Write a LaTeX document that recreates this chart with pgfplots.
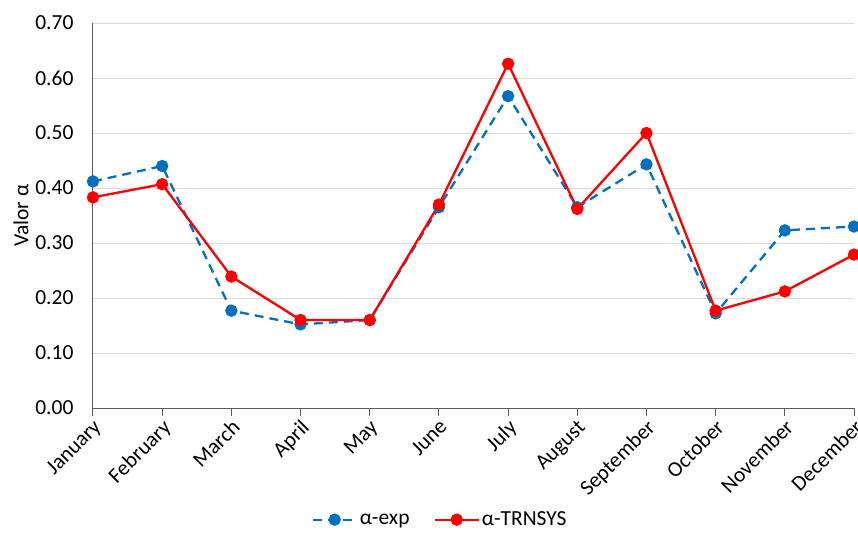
\documentclass[border=0pt]{standalone}
\usepackage{pgfplots}
\pgfplotsset{compat=1.18}
\usepackage{fontspec}
\setmainfont{Carlito}
\definecolor{bl}{HTML}{0070C0}
\definecolor{rd}{HTML}{FF0000}
\definecolor{gr}{HTML}{D9D9D9}
\definecolor{ax}{HTML}{595959}
\newcommand{\fs}{\fontsize{21.5}{23}\selectfont}
\begin{document}
\begin{tikzpicture}
\begin{axis}[
  scale only axis, width=761pt, height=385pt,
  at={(0,0)}, anchor=south west,
  xmin=0, xmax=11, ymin=0, ymax=0.7,
  axis x line*=bottom, axis y line*=left,
  axis line style={ax, line width=1pt, -},
  xtick={0,...,11},
  xticklabels={January,February,March,April,May,June,July,August,September,October,November,December},
  xticklabel style={rotate=45, anchor=north east, font=\fs, inner sep=1pt, xshift=-1pt},
  x tick style={ax, line width=1pt}, major tick length=8pt,
  xtick pos=bottom, tick align=outside,
  ytick={0,0.1,...,0.7},
  y tick style={draw=none},
  yticklabel style={font=\fs, xshift=-8pt, /pgf/number format/fixed, /pgf/number format/fixed zerofill, /pgf/number format/precision=2},
  /pgf/number format/assume math mode=true,
  ymajorgrids, major grid style={gr, line width=1pt},
  ylabel={Valor α}, ylabel style={font=\fs, xshift=0pt},
  legend style={draw=none, at={(0.456,-0.29)}, anchor=center, legend columns=2, font=\fs, /tikz/every even column/.append style={column sep=22pt}},
  legend cell align=left,
  legend image code/.code={
    \draw[#1] (0pt,0pt) -- (44pt,0pt);
    \draw[#1, solid] plot coordinates {(22pt,0pt)};
  },
  clip=false,
]
\addplot[bl, line width=2.3pt, dash pattern=on 9pt off 6pt, mark=*, mark size=5pt, mark options={solid}] coordinates {
(0,0.412) (1,0.440) (2,0.177) (3,0.152) (4,0.160) (5,0.365) (6,0.567) (7,0.365) (8,0.443) (9,0.172) (10,0.323) (11,0.330)};
\addlegendentry{α-exp}
\addplot[rd, line width=2.3pt, mark=*, mark size=5pt] coordinates {
(0,0.383) (1,0.407) (2,0.239) (3,0.160) (4,0.160) (5,0.370) (6,0.626) (7,0.362) (8,0.500) (9,0.177) (10,0.212) (11,0.279)};
\addlegendentry{α-TRNSYS}
\end{axis}
\pgfresetboundingbox
\useasboundingbox (-93pt,-139pt) rectangle (765pt,408pt);
\end{tikzpicture}
\end{document}
